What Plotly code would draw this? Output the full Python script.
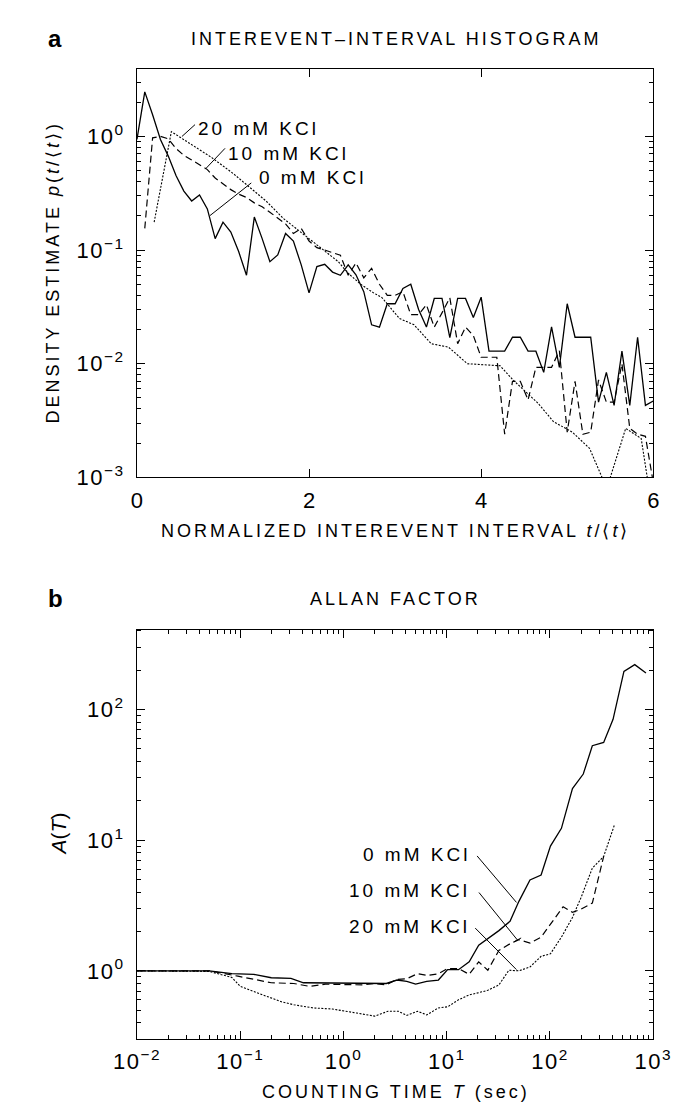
import plotly.graph_objects as go

W, H = 683, 1110

# ---------------- Panel a: interevent-interval histogram ----------------
hist_x = [0.000, 0.091, 0.182, 0.273, 0.364, 0.455, 0.545, 0.636, 0.727, 0.818,
          0.909, 1.000, 1.091, 1.182, 1.273, 1.364, 1.455, 1.545, 1.636, 1.727,
          1.818, 1.909, 2.000, 2.091, 2.182, 2.273, 2.364, 2.455, 2.545, 2.636,
          2.727, 2.818, 2.909, 3.000, 3.091, 3.182, 3.273, 3.364, 3.455, 3.545,
          3.636, 3.727, 3.818, 3.909, 4.000, 4.091, 4.182, 4.273, 4.364, 4.455,
          4.545, 4.636, 4.727, 4.818, 4.909, 5.000, 5.091, 5.182, 5.273, 5.364,
          5.455, 5.545, 5.636, 5.727, 5.818, 5.909, 6.000]

p_0mM = [0.94, 2.46, 1.55, 0.94, 0.67, 0.45, 0.33, 0.27, 0.305, 0.23,
         0.126, 0.176, 0.144, 0.097, 0.060, 0.195, 0.126, 0.079, 0.0905, 0.14,
         0.12, 0.074, 0.042, 0.0716, 0.075, 0.064, 0.060, 0.074, 0.0606, 0.043,
         0.022, 0.021, 0.0337, 0.0337, 0.046, 0.050, 0.030, 0.021, 0.0375, 0.0375,
         0.017, 0.0375, 0.0375, 0.0255, 0.0385, 0.0129, 0.0129, 0.0129, 0.0171, 0.0171,
         0.0129, 0.0129, 0.0084, 0.0211, 0.0093, 0.0337, 0.0171, 0.0171, 0.0171, 0.0046,
         0.0084, 0.0043, 0.0129, 0.0043, 0.0171, 0.0043, 0.0047]

p_10mM = [None, 0.155, 0.97, 1.0, 0.95, 0.78, 0.68, 0.62, 0.56, 0.51,
          0.43, 0.38, 0.34, 0.31, 0.29, 0.26, 0.24, 0.215, 0.19, 0.17,
          0.14, 0.155, 0.12, 0.105, 0.10, 0.095, 0.09, 0.06, 0.077, 0.057,
          0.069, 0.05, 0.04, 0.04, 0.043, 0.027, 0.027, 0.033, 0.021, 0.028,
          0.038, 0.015, 0.021, 0.0177, 0.0114, 0.0114, 0.0114, 0.0024, 0.007, 0.007,
          0.0048, 0.0093, 0.0093, 0.0093, 0.013, 0.0025, 0.007, 0.0024, 0.0025, 0.0072,
          0.0046, 0.0046, 0.010, 0.0027, 0.0024, 0.0023, 0.0009]

x_20mM = [0.20, 0.40, 0.60, 0.87, 1.12, 1.30, 1.50, 1.70, 1.85, 2.00,
          2.16, 2.34, 2.45, 2.60, 2.75, 2.85, 3.05, 3.22, 3.42, 3.62,
          3.84, 4.22, 4.37, 4.66, 4.84, 5.06, 5.26, 5.46, 5.68, 5.86, 5.95]
p_20mM = [0.176, 1.1, 0.88, 0.65, 0.47, 0.36, 0.27, 0.19, 0.155, 0.125,
          0.10, 0.079, 0.063, 0.05, 0.042, 0.038, 0.025, 0.022, 0.015, 0.014,
          0.010, 0.0096, 0.0072, 0.0045, 0.0031, 0.0025, 0.0018, 0.0008, 0.0027, 0.0022, 0.0008]

# ---------------- Panel b: Allan factor ----------------
T_0mM = [0.01, 0.05, 0.083, 0.135, 0.20, 0.31, 0.41, 0.67, 1.1, 1.55, 2.0, 2.6,
         3.3, 4.1, 5.0, 6.4, 8.3, 10.2, 13, 16.5, 20.4, 25, 32, 41, 50, 64, 82,
         101, 129, 165, 210, 257, 331, 408, 520, 662, 850]
A_0mM = [1.0, 1.0, 0.95, 0.94, 0.885, 0.875, 0.81, 0.81, 0.81, 0.80, 0.81, 0.80,
         0.85, 0.83, 0.79, 0.83, 0.85, 1.02, 1.02, 1.17, 1.57, 1.76, 2.03, 2.39, 3.4, 4.95, 5.4,
         9.0, 12.3, 24.8, 32, 52.7, 55.8, 84, 195, 220, 190]

T_10mM = [0.01, 0.05, 0.095, 0.20, 0.33, 0.47, 0.67, 1.1, 1.55, 2.0, 2.6,
          3.3, 4.1, 5.2, 6.5, 8.3, 10.2, 13, 16.5, 20.4, 25, 32, 41, 50, 64, 82,
          101, 134, 165, 200, 257, 331]
A_10mM = [1.0, 1.0, 0.91, 0.81, 0.80, 0.76, 0.79, 0.79, 0.78, 0.80, 0.78,
          0.86, 0.87, 0.95, 0.92, 0.95, 1.04, 1.04, 0.94, 1.17, 1.01, 1.43, 1.61, 1.73, 1.63, 1.81,
          2.28, 3.09, 2.80, 2.96, 3.3, 7.5]

T_20mM = [0.01, 0.05, 0.083, 0.10, 0.165, 0.25, 0.33, 0.51, 0.78, 1.02, 1.35, 2.0,
          2.7, 3.4, 4.1, 5.2, 6.4, 8.3, 10.2, 13, 16.5, 20.4, 25, 32, 40, 50, 64, 82,
          101, 129, 165, 200, 257, 331, 420]
A_20mM = [1.0, 0.99, 0.89, 0.76, 0.655, 0.58, 0.55, 0.52, 0.51, 0.49, 0.475, 0.45,
          0.49, 0.49, 0.456, 0.49, 0.46, 0.52, 0.53, 0.60, 0.655, 0.68, 0.71, 0.78, 1.01, 1.0, 1.07, 1.29,
          1.35, 1.81, 2.56, 3.64, 6.1, 7.5, 13.0]

series_names = ["0 mM KCl", "10 mM KCl", "20 mM KCl"]

FONT = "Liberation Sans, Arial, sans-serif"
BLACK = "black"
SP = "letter-spacing:3px"

solid = dict(color=BLACK, width=1.3)
dashed = dict(color=BLACK, width=1.2, dash="7px,4px")
dotted = dict(color=BLACK, width=1.1, dash="2px,1.5px")

fig = go.Figure()
fig.add_trace(go.Scatter(x=hist_x, y=p_0mM, mode="lines", line=solid, name=series_names[0],
                         xaxis="x", yaxis="y"))
fig.add_trace(go.Scatter(x=hist_x, y=p_10mM, mode="lines", line=dashed, name=series_names[1],
                         xaxis="x", yaxis="y"))
fig.add_trace(go.Scatter(x=x_20mM, y=p_20mM, mode="lines", line=dotted, name=series_names[2],
                         xaxis="x", yaxis="y"))

fig.add_trace(go.Scatter(x=T_0mM, y=A_0mM, mode="lines", line=solid, name=series_names[0],
                         xaxis="x2", yaxis="y2"))
fig.add_trace(go.Scatter(x=T_10mM, y=A_10mM, mode="lines", line=dashed, name=series_names[1],
                         xaxis="x2", yaxis="y2"))
fig.add_trace(go.Scatter(x=T_20mM, y=A_20mM, mode="lines", line=dotted, name=series_names[2],
                         xaxis="x2", yaxis="y2"))


def px(x):
    return x / W


def py(y):
    return 1 - y / H


def spaced(s, sp=SP):
    return "<span style='%s'>%s</span>" % (sp, s)


def sup(n):
    s = str(n).replace("-", "\u2212")
    return spaced("10<sup>%s</sup>" % s, "letter-spacing:1.5px")


def minors(lo, hi):
    vals = []
    for e in range(lo, hi):
        for m in range(2, 10):
            vals.append(m * 10 ** e)
    return vals


XD = [px(112), px(663)]
axis_common = dict(showline=True, linecolor=BLACK, linewidth=1, mirror="allticks",
                   ticks="inside", ticklen=8, tickcolor=BLACK, tickwidth=1,
                   showgrid=False, zeroline=False,
                   tickfont=dict(family=FONT, size=22, color=BLACK))

fig.update_layout(
    width=W, height=H, margin=dict(l=0, r=0, t=0, b=0),
    paper_bgcolor="white", plot_bgcolor="white", showlegend=False,
    xaxis=dict(domain=XD, range=[0, 6], tickmode="array", tickvals=[0, 2, 4, 6],
               ticktext=["0", "2", "4", "6"], anchor="y", ticklabelstandoff=3, **axis_common),
    yaxis=dict(domain=[py(475), py(62)], type="log", range=[-3, 0.59], tickmode="array",
               tickvals=[1e-3, 1e-2, 1e-1, 1], ticktext=[sup(-3), sup(-2), sup(-1), sup(0)],
               anchor="x", ticklabelstandoff=7,
               minor=dict(tickvals=minors(-3, 1), ticklen=4, ticks="inside", tickcolor=BLACK),
               **axis_common),
    xaxis2=dict(domain=XD, type="log", range=[-2, 3], tickmode="array",
                tickvals=[1e-2, 1e-1, 1, 10, 100, 1000],
                ticktext=[sup(-2), sup(-1), sup(0), sup(1), sup(2), sup(3)],
                anchor="y2", ticklabelstandoff=3,
                minor=dict(tickvals=minors(-2, 3), ticklen=4, ticks="inside", tickcolor=BLACK),
                **axis_common),
    yaxis2=dict(domain=[py(1043), py(629)], type="log", range=[-0.52, 2.61], tickmode="array",
                tickvals=[1, 10, 100], ticktext=[sup(0), sup(1), sup(2)],
                anchor="x2", ticklabelstandoff=7,
                minor=dict(tickvals=minors(-1, 3), ticklen=4, ticks="inside", tickcolor=BLACK),
                **axis_common),
)

ann = []


def text(x, y, s, size=19, xanchor="center", yanchor="middle", textangle=0, bold=False, sp=True):
    ann.append(dict(x=px(x), y=py(y), xref="paper", yref="paper",
                    text=spaced(s) if sp else s, showarrow=False,
                    xanchor=xanchor, yanchor=yanchor, textangle=textangle,
                    font=dict(family=FONT, size=size, color=BLACK,
                              weight="bold" if bold else "normal")))


# panel letters and titles
text(25, 31, "a", size=24, bold=True, sp=False)
text(388, 31, "INTEREVENT\u2013INTERVAL HISTOGRAM", size=18)
text(25, 598, "b", size=24, bold=True, sp=False)
text(388, 598, "ALLAN FACTOR", size=18)

# axis titles
text(388, 529, "NORMALIZED INTEREVENT INTERVAL <i>t</i>/\u27e8<i>t</i>\u27e9", size=18)
text(22, 268, "DENSITY ESTIMATE <i>p</i>(<i>t</i>/\u27e8<i>t</i>\u27e9)", size=18, textangle=-90)
text(388, 1097, "COUNTING TIME <i>T</i> (sec)", size=18)
text(28, 836, "<i>A</i>(<i>T</i>)", size=21, textangle=-90, sp=False)

# curve labels, panel a
text(175, 122, "20 mM KCl", xanchor="left")
text(207, 147, "10 mM KCl", xanchor="left")
text(240, 172, "0 mM KCl", xanchor="left")
# curve labels, panel b
text(470, 857, "0 mM KCl", xanchor="right")
text(470, 893, "10 mM KCl", xanchor="right")
text(470, 929, "20 mM KCl", xanchor="right")

fig.update_layout(annotations=ann)

# leader lines (pixel positions of label pointers)
leaders = [((160, 130), (174, 118)), ((185, 163), (206, 142)), ((190, 210), (234, 177)),
           ((475, 858), (517, 905)), ((477, 895), (518, 943)), ((473, 931), (517, 973)),
           ((514, 945), (522, 941))]
shapes = []
for (x0, y0), (x1, y1) in leaders:
    shapes.append(dict(type="line", xref="paper", yref="paper", x0=px(x0), y0=py(y0),
                       x1=px(x1), y1=py(y1), line=dict(color=BLACK, width=1)))
fig.update_layout(shapes=shapes)

fig.write_html("out.html")
